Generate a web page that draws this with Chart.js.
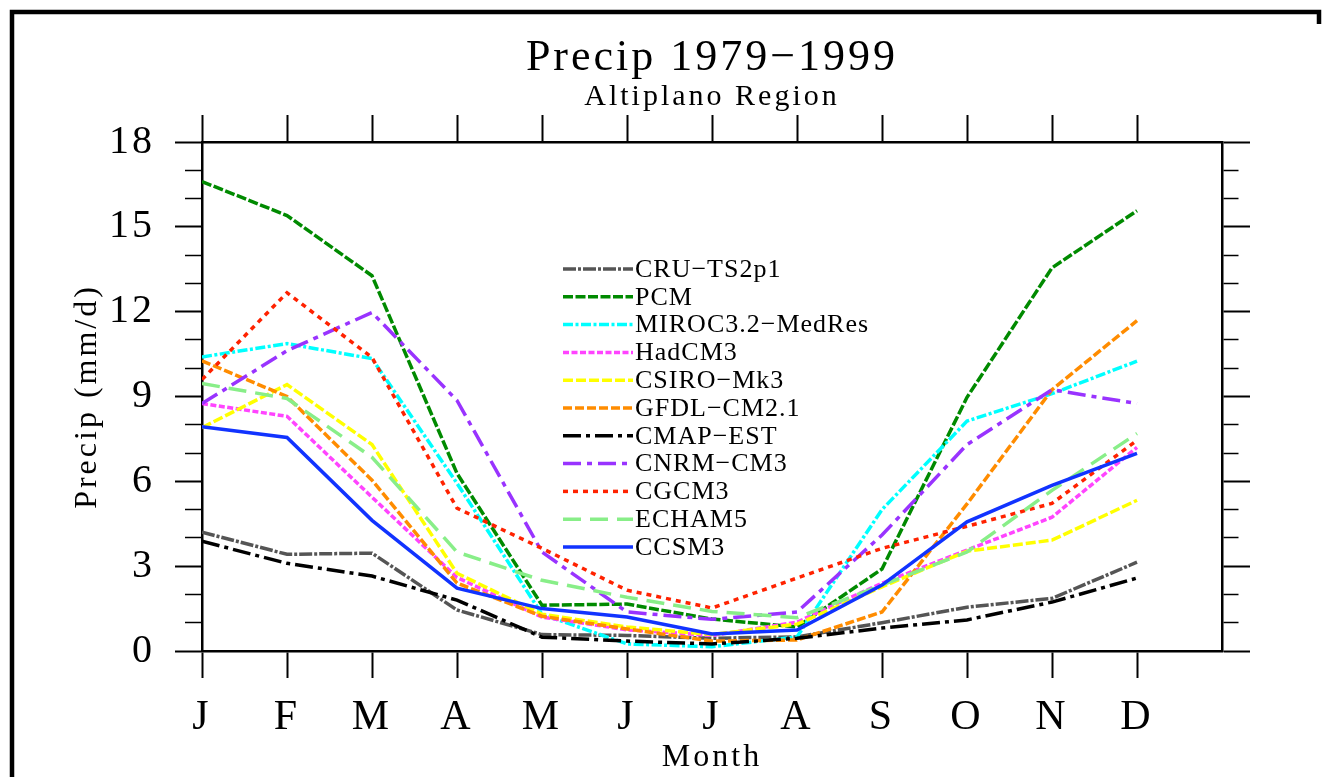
<!DOCTYPE html>
<html>
<head>
<meta charset="utf-8">
<title>Precip 1979-1999 Altiplano</title>
<script src="https://cdn.jsdelivr.net/npm/chart.js@4.4.1/dist/chart.umd.min.js"></script>
<style>
  html, body { margin: 0; padding: 0; background: #fff; }
</style>
</head>
<body>
<canvas id="precipChart" width="1323" height="777"></canvas>
<script>
// month letters on the x axis (x value 0..11)
const monthLabels = ["J", "F", "M", "A", "M", "J", "J", "A", "S", "O", "N", "D"];
// labelled y ticks, the other integer ticks are minor
const yMajorTicks = [0, 3, 6, 9, 12, 15, 18];

// monthly precip (mm/d)
const cruTs2p1 = [4.2, 3.42, 3.46, 1.45, 0.58, 0.55, 0.45, 0.5, 1.0, 1.55, 1.86, 3.14];
const pcm = [16.6, 15.4, 13.27, 6.28, 1.62, 1.66, 1.13, 0.85, 2.9, 8.97, 13.55, 15.57];
const miroc = [10.4, 10.87, 10.34, 5.93, 1.3, 0.25, 0.15, 0.5, 5.0, 8.13, 9.1, 10.25];
const hadcm3 = [8.75, 8.3, 5.44, 2.6, 1.2, 0.75, 0.55, 1.02, 2.4, 3.57, 4.73, 7.2];
const csiro = [7.9, 9.42, 7.3, 2.75, 1.3, 0.85, 0.58, 0.95, 2.27, 3.53, 3.92, 5.33];
const gfdl = [10.26, 9.0, 6.04, 2.4, 1.23, 0.78, 0.35, 0.39, 1.38, 5.2, 9.24, 11.68];
const cmapEst = [3.88, 3.1, 2.65, 1.8, 0.49, 0.35, 0.25, 0.45, 0.81, 1.1, 1.73, 2.58];
const cnrm = [8.75, 10.62, 11.97, 8.86, 3.5, 1.38, 1.12, 1.38, 4.1, 7.3, 9.24, 8.75];
const cgcm3 = [9.6, 12.67, 10.38, 5.05, 3.63, 2.15, 1.52, 2.58, 3.63, 4.41, 5.22, 7.45];
const echam5 = [9.46, 8.93, 6.85, 3.5, 2.5, 1.9, 1.4, 1.18, 2.33, 3.5, 5.68, 7.69];
const ccsm3 = [7.93, 7.55, 4.62, 2.22, 1.5, 1.2, 0.6, 0.74, 2.33, 4.57, 5.86, 6.99];

const serif = "'Liberation Serif', 'Times New Roman', serif";

// one entry per model: [label, values, colour, dash]
const seriesDefs = [
  ["CRU\u2212TS2p1", cruTs2p1, "#555555", [13, 2, 3, 2]],
  ["PCM", pcm, "#008a00", [10, 2.5]],
  ["MIROC3.2\u2212MedRes", miroc, "#00ffff", [10, 2.5, 3, 2.5]],
  ["HadCM3", hadcm3, "#ff44ff", [6, 2.5]],
  ["CSIRO\u2212Mk3", csiro, "#ffff00", [10, 3]],
  ["GFDL\u2212CM2.1", gfdl, "#ff8c00", [9, 3]],
  ["CMAP\u2212EST", cmapEst, "#000000", [18, 5, 4, 5]],
  ["CNRM\u2212CM3", cnrm, "#9933ff", [18, 6, 5, 6]],
  ["CGCM3", cgcm3, "#ff2200", [5, 5]],
  ["ECHAM5", echam5, "#88ee88", [18, 9]],
  ["CCSM3", ccsm3, "#1133ff", []],
];

const datasets = seriesDefs.map(([label, values, color, dash], i) => ({
  label: label,
  data: values.map((v, m) => ({ x: m, y: v })),
  borderColor: color,
  backgroundColor: color,
  borderDash: dash,
  borderWidth: 3.5,
  pointRadius: 0,
  tension: 0,
  fill: false,
  order: seriesDefs.length - i, // later series on top
}));

const isMajorY = (ctx) => ctx.tick && yMajorTicks.includes(ctx.tick.value);
const monthTicks = (scale) => {
  scale.ticks = monthLabels.map((_, i) => ({ value: i }));
};

// white page, wide letter spacing like the NCL font, and the thick frame
const framePlugin = {
  id: "frame",
  beforeDraw(chart) {
    const c = chart.ctx;
    c.save();
    c.fillStyle = "#fff";
    c.fillRect(0, 0, chart.width, chart.height);
    c.restore();
    c.letterSpacing = "3px";
  },
  afterDraw(chart) {
    const c = chart.ctx;
    c.save();
    c.strokeStyle = "#000";
    c.lineWidth = 4.5;
    c.beginPath();
    c.moveTo(12, chart.height);
    c.lineTo(12, 12);
    c.lineTo(chart.width - 4, 12);
    c.lineTo(chart.width - 4, 24);
    c.stroke();
    c.restore();
  },
};

// legend inside the plot, NCL style
const insideLegend = {
  id: "insideLegend",
  afterDatasetsDraw(chart) {
    const c = chart.ctx;
    const area = chart.chartArea;
    const x0 = area.left + 361;
    const y0 = area.top + 127;
    const rowGap = 27.8;
    c.save();
    c.font = "26px " + serif;
    c.letterSpacing = "1px";
    c.textBaseline = "middle";
    c.textAlign = "left";
    chart.data.datasets.forEach((ds, i) => {
      const y = y0 + i * rowGap;
      c.strokeStyle = ds.borderColor;
      c.lineWidth = 3.5;
      c.setLineDash(ds.borderDash);
      c.beginPath();
      c.moveTo(x0, y);
      c.lineTo(x0 + 70, y);
      c.stroke();
      c.setLineDash([]);
      c.fillStyle = "#000";
      c.fillText(ds.label, x0 + 72, y + 1);
    });
    c.restore();
  },
};

new Chart(document.getElementById("precipChart"), {
  type: "line",
  data: { datasets: datasets },
  plugins: [framePlugin, insideLegend],
  options: {
    responsive: false,
    animation: false,
    layout: { padding: 0 },
    plugins: {
      legend: { display: false },
      tooltip: { enabled: false },
      title: {
        display: true,
        fullSize: false, // centre over the plot, not the page
        text: "Precip 1979\u22121999",
        color: "#000",
        font: { family: serif, size: 44, weight: "normal", lineHeight: 1 },
        padding: { top: 36, bottom: 0 },
      },
      subtitle: {
        display: true,
        fullSize: false,
        text: "Altiplano Region",
        color: "#000",
        font: { family: serif, size: 30, weight: "normal", lineHeight: 1 },
        padding: { top: 2, bottom: 0 },
      },
    },
    scales: {
      x: {
        type: "linear",
        position: "bottom",
        min: 0,
        max: 12,
        afterBuildTicks: monthTicks,
        afterFit: (s) => { s.height = 126; },
        ticks: {
          autoSkip: false,
          maxRotation: 0,
          padding: 15,
          color: "#000",
          font: { family: serif, size: 42 },
          callback: (v) => monthLabels[v] ?? "",
        },
        grid: { drawOnChartArea: false, tickLength: 27, tickWidth: 2, tickColor: "#000" },
        border: { display: true, color: "#000", width: 2.5 },
        title: {
          display: true,
          text: "Month",
          color: "#000",
          font: { family: serif, size: 32 },
          padding: { top: 0, bottom: 0 },
        },
      },
      xTop: {
        type: "linear",
        position: "top",
        min: 0,
        max: 12,
        afterBuildTicks: monthTicks,
        afterFit: (s) => { s.height = 30; },
        ticks: { display: false },
        grid: { drawOnChartArea: false, tickLength: 27, tickWidth: 2, tickColor: "#000" },
        border: { display: true, color: "#000", width: 2.5 },
      },
      y: {
        type: "linear",
        position: "left",
        min: 0,
        max: 18,
        afterFit: (s) => { s.width = 202; },
        ticks: {
          stepSize: 1,
          autoSkip: false,
          padding: 20,
          color: "#000",
          font: { family: serif, size: 40 },
          callback: (v) => (yMajorTicks.includes(v) ? String(v) : ""),
        },
        grid: {
          drawOnChartArea: false,
          tickLength: 27,
          tickColor: "#000",
          tickWidth: (ctx) => (isMajorY(ctx) ? 2 : 1.5),
          // minor ticks: skip the outer 10px so only the inner 17px show
          tickBorderDash: (ctx) => (isMajorY(ctx) ? [] : [17, 10]),
          tickBorderDashOffset: (ctx) => (isMajorY(ctx) ? 0 : 17),
        },
        border: { display: true, color: "#000", width: 2.5 },
        title: {
          display: true,
          text: "Precip (mm/d)",
          color: "#000",
          font: { family: serif, size: 32 },
          padding: { top: 68, bottom: 0 },
        },
      },
      yRight: {
        type: "linear",
        position: "right",
        min: 0,
        max: 18,
        afterFit: (s) => { s.width = 101; },
        ticks: { stepSize: 1, display: false },
        grid: {
          drawOnChartArea: false,
          tickLength: 28,
          tickColor: "#000",
          tickWidth: (ctx) => (isMajorY(ctx) ? 2 : 1.5),
          tickBorderDash: (ctx) => (isMajorY(ctx) ? [] : [15, 20]),
          tickBorderDashOffset: 0,
        },
        border: { display: true, color: "#000", width: 2.5 },
      },
    },
  },
});
</script>
</body>
</html>
